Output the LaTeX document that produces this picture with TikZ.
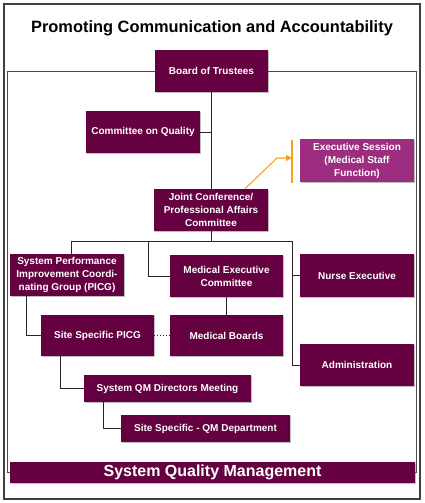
\documentclass[tikz,border=0pt]{standalone}
\usepackage{fontspec}
\setmainfont{Liberation Sans}
\usetikzlibrary{shadows,arrows.meta}
\definecolor{maroon}{HTML}{650041}
\definecolor{plum}{HTML}{9C2D80}
\definecolor{amber}{HTML}{F7A11A}
\begin{document}
\begin{tikzpicture}[x=1pt,y=-1pt,
  box/.style={fill=maroon, text=white, font=\bfseries\fontsize{10}{13}\selectfont,
    align=center, inner sep=0pt, minimum width=114pt, minimum height=42pt,
    drop shadow={shadow xshift=1.3pt, shadow yshift=-1.3pt, fill=black!50, opacity=0.5}},
  conn/.style={draw=black!85, line width=0.9pt},
  frame/.style={draw=black!70, line width=0.9pt},
  orange/.style={draw=amber, line width=1.1pt}]
\useasboundingbox (0,0) rectangle (424,503);
\draw[draw=black!75, line width=1.3pt] (4,4) rectangle (420,499);

\node[font=\bfseries\fontsize{16.4}{18}\selectfont, inner sep=0pt] (title) at (212,28.5)
  {Promoting Communication and Accountability};

\node[box, minimum width=113pt] (board) at (211.5,71) {Board of Trustees};
\node[box] (coq) at (143,132) {Committee on Quality};
\node[box, fill=plum, minimum height=43pt] (exec) at (357,160.5) {Executive Session\\(Medical Staff\\Function)};
\node[box] (jc) at (211,210) {Joint Conference/\\Professional Affairs\\Committee};
\node[box] (spicg) at (67,275) {System Performance\\Improvement Coordi-\\nating Group (PICG)};
\node[box, minimum width=113pt] (mec) at (226.5,276) {Medical Executive\\Committee};
\node[box, minimum height=43pt] (nurse) at (357,275.5) {Nurse Executive};
\node[box, minimum width=113pt, minimum height=41pt] (sitepicg) at (97.5,335.5) {Site Specific PICG};
\node[box, minimum width=113pt, minimum height=41pt] (medboards) at (226.5,335.5) {Medical Boards};
\node[box] (admin) at (357,365) {Administration};
\node[box, minimum width=167pt, minimum height=27pt] (sqmdir) at (167.5,388.5) {System QM Directors Meeting};
\node[box, minimum width=169pt, minimum height=27pt] (siteqm) at (205.5,428.5) {Site Specific - QM Department};
\node[box, minimum width=405pt, minimum height=21pt,
  font=\bfseries\fontsize{16}{18}\selectfont] (sqm) at (212.5,472.5) {System Quality Management};

% inner frame
\coordinate (fl) at (7,71);
\coordinate (fr) at (416,71);
\draw[frame] (board.west) -- (fl) |- (sqm.west);
\draw[frame] (board.east) -- (fr) |- (sqm.east);

% connectors
\draw[conn] (board.south) -- (board.south |- jc.north);
\draw[conn] (coq.east) -- (coq.east -| board.south);
\coordinate (busL) at (71,241);
\coordinate (busM) at (148,241);
\coordinate (busR) at (292,241);
\draw[conn] (jc.south) -- (jc.south |- busL);
\draw[conn] (busL) -- (busR);
\draw[conn] (busL) -- (busL |- spicg.north);
\draw[conn] (busM) |- (mec.west);
\draw[conn] (busR) |- (admin.west);
\draw[conn] (busR |- nurse.west) -- (nurse.west);
\coordinate (s1) at ([xshift=-41pt]spicg.south);
\draw[conn] (s1) |- (sitepicg.west);
\draw[conn] (mec.south) -- (medboards.north);
\draw[conn, dotted] (sitepicg.east) -- (medboards.west);
\coordinate (s2) at ([xshift=-37.5pt]sitepicg.south);
\draw[conn] (s2) |- (sqmdir.west);
\coordinate (s3) at ([xshift=-64.5pt]sqmdir.south);
\draw[conn] (s3) |- (siteqm.west);

% orange arrow
\coordinate (oa) at ([xshift=34pt]jc.north);
\coordinate (ob) at (277,158);
\coordinate (bartop) at (292,140);
\coordinate (barbot) at (292,183);
\draw[orange, line width=1.3pt] (bartop) -- (barbot);
\draw[orange, -{Triangle[length=6pt,width=6pt]}] (oa) -- (ob) -- (ob -| bartop);
\end{tikzpicture}
\end{document}
